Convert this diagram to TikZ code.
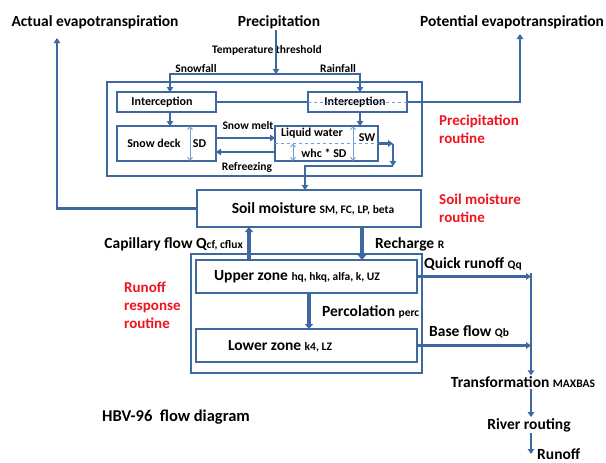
\documentclass[tikz,border=0pt]{standalone}
\usepackage{fontspec}
\setmainfont{Carlito}
\usetikzlibrary{positioning,calc,arrows.meta}
\definecolor{hbvblue}{RGB}{62,104,160}
\definecolor{hbvlight}{RGB}{110,160,215}
\definecolor{hbvred}{RGB}{240,20,30}
\tikzstyle{line} = [draw=hbvblue,line width=2.5pt]
\tikzstyle{flow} = [line,-{Triangle[length=5pt,width=6.5pt]}]
\tikzstyle{bigflow} = [draw=hbvblue,line width=4pt,-{Triangle[length=5pt,width=8pt]}]
\tikzstyle{box} = [draw=hbvblue,line width=1.6pt,inner sep=0pt,outer sep=0pt]
\tikzstyle{level} = [draw=hbvlight,line width=0.9pt,{Straight Barb[length=3pt,width=5pt]}-{Straight Barb[length=3pt,width=5pt]}]
\tikzstyle{split} = [draw=hbvlight,line width=1pt,dashed]
\tikzstyle{title} = [font=\bfseries\fontsize{15.5}{18}\selectfont,inner sep=1pt]
\tikzstyle{label} = [font=\bfseries\fontsize{11.5}{13}\selectfont,inner sep=1pt]
\tikzstyle{boxtext} = [font=\bfseries\fontsize{12}{14}\selectfont,inner sep=1pt]
\tikzstyle{zone} = [font=\bfseries\fontsize{15.5}{17}\selectfont,inner sep=1pt]
\tikzstyle{routine} = [font=\bfseries\fontsize{15}{18}\selectfont,inner sep=1pt,text=hbvred,align=left,anchor=west]
\newcommand\hbvpar[1]{{\fontsize{11.5}{12}\selectfont #1}}

\begin{document}
\begin{tikzpicture}[x=1pt,y=-1pt]
    \fill[white] (0,0) rectangle (606,463);
    % top
    \node[title] (aet) at (95,22) {Actual evapotranspiration};
    \node[title] (prec) at (279,22) {Precipitation};
    \node[title] (pet) at (512,22) {Potential evapotranspiration};
    \node[label] (temp) at (267,50) {Temperature threshold};
    \coordinate (fork) at (276,74);
    \coordinate (aetx) at (57,38);
    \coordinate (petx) at (520,34);

    % precipitation routine
    \node[box,minimum width=315pt,minimum height=94pt] (precbox) at (264.5,129) {};
    \node[box,fill=white,minimum width=99pt,minimum height=20pt] (ic1) at (166.5,102) {};
    \node[box,fill=white,minimum width=99pt,minimum height=20pt] (ic2) at (357.5,102) {};
    \node[box,minimum width=99pt,minimum height=35pt] (snow) at (166.5,143.5) {};
    \node[box,minimum width=103pt,minimum height=35pt] (liq) at (326.5,143.5) {};
    \node[boxtext] (ic1t) at (162,102) {Interception};
    \node[boxtext] (ic2t) at (355,102) {Interception};
    \node[boxtext] (snowt) at (154,143.5) {Snow deck};
    \node[boxtext] (sd) at (199.5,143.5) {SD};
    \node[boxtext] (liqt) at (312,133) {Liquid water};
    \node[boxtext] (whc) at (324,153) {whc * SD};
    \node[boxtext] (sw) at (367,138) {SW};
    \node[label] (snowfall) at (196,69) {Snowfall};
    \node[label] (rainfall) at (338,69) {Rainfall};
    \node[label] (melt) at (248,126) {Snow melt};
    \node[label] (refreeze) at (247,167) {Refreezing};
    \node[routine] (precr) at (438,129) {Precipitation\\routine};

    % soil moisture routine
    \node[box,minimum width=224pt,minimum height=37pt] (soil) at (309,208.5) {};
    \node[zone] (soilt) at (313,208.5) {Soil moisture \hbvpar{SM, FC, LP, beta}};
    \node[routine] (soilr) at (438,208) {Soil moisture\\routine};
    \node[zone,anchor=east] (cap) at (244,244) {Capillary flow Q\hbvpar{cf, cflux}};
    \node[zone,anchor=west] (rech) at (374,244) {Recharge \hbvpar{R}};

    % runoff response routine
    \node[box,minimum width=231pt,minimum height=119pt] (runbox) at (306.5,313.5) {};
    \node[box,minimum width=221pt,minimum height=33pt] (uz) at (306.5,276.5) {};
    \node[box,minimum width=221pt,minimum height=33pt] (lz) at (306.5,345.5) {};
    \node[zone] (uzt) at (297,277) {Upper zone \hbvpar{hq, hkq, alfa, k, UZ}};
    \node[zone] (lzt) at (280,346) {Lower zone \hbvpar{k4, LZ}};
    \node[zone,anchor=west] (perc) at (321,312) {Percolation \hbvpar{perc}};
    \node[zone,anchor=west] (quick) at (423,264) {Quick runoff \hbvpar{Qq}};
    \node[zone,anchor=west] (base) at (428,332) {Base flow \hbvpar{Qb}};
    \node[routine] (runr) at (123,305) {Runoff\\response\\routine};
    \coordinate (jn) at (531,273);
    \node[zone] (trans) at (523,382) {Transformation \hbvpar{MAXBAS}};
    \node[zone] (river) at (529,425) {River routing};
    \node[zone,anchor=west] (runoff) at (536,454) {Runoff};
    \node[font=\bfseries\fontsize{16.5}{18}\selectfont,inner sep=1pt] (hbv) at (176,417) {HBV-96\ \ flow diagram};

    % connectors
    \draw[flow] (prec.south -| fork) -- (fork);
    \draw[flow] (fork) -| ([xshift=3.5pt]ic1.north);
    \draw[flow] (fork) -| ([xshift=2.5pt]ic2.north);
    \draw[line] (ic1.east) -- (ic2.west);
    \draw[split] (ic2.west) -- (ic2.east);
    \draw[flow] (ic2.east) -| (petx);
    \draw[flow] ([xshift=3.5pt]ic1.south) -- ([xshift=3.5pt]snow.north);
    \draw[flow] ([xshift=2.5pt]ic2.south) -- ([xshift=2.5pt]ic2.south |- liq.north);
    \draw[flow] ([yshift=5.5pt]snow.east) -- ([yshift=5.5pt]liq.west);
    \draw[flow] ([yshift=-8.5pt]liq.west) -- ([yshift=-8.5pt]snow.east);
    \draw[split] (liq.west) -- (liq.east);
    \draw[level] ([xshift=23.5pt]snow.north) -- ([xshift=23.5pt]snow.south);
    \draw[level] ([xshift=-33.5pt]liq.center) -- ([xshift=-33.5pt]liq.south);
    \draw[level] ([xshift=26.5pt]liq.north) -- ([xshift=26.5pt]liq.south);
    \coordinate (bend) at (393,166);
    \draw[flow] (liq.east) -- (liq.east -| bend);
    \draw[flow] (liq.east -| bend) -- (bend);
    \draw[flow] (bend) -| ([xshift=-4pt]soil.north);
    \draw[flow] (soil.west) -| (aetx);
    \draw[bigflow] ([xshift=-57.5pt]uz.north) -- ([xshift=-57.5pt]uz.north |- soil.south);
    \draw[bigflow] ([xshift=53pt]soil.south) -- ([xshift=53pt]soil.south |- uz.north);
    \draw[bigflow] ([xshift=2.5pt]uz.south) -- ([xshift=2.5pt]lz.north);
    \draw[flow] (uz.east) -- (uz.east -| jn);
    \draw[flow] (lz.east) -- (lz.east -| jn);
    \draw[flow] (jn) -- (jn |- trans.north);
    \draw[flow] (trans.south -| jn) -- (river.north -| jn);
    \draw[flow] (river.south -| jn) -- (jn |- runoff.west);
\end{tikzpicture}
\end{document}
